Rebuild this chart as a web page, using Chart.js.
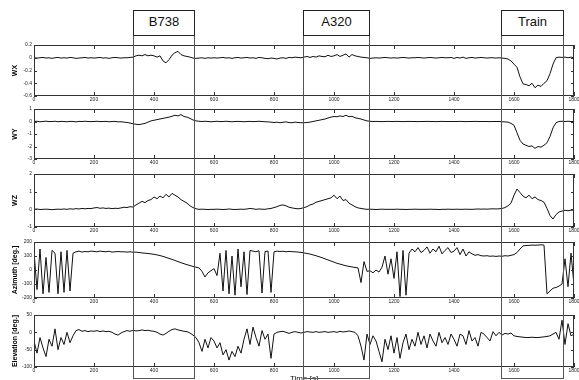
<!DOCTYPE html>
<html>
<head>
<meta charset="utf-8">
<script src="https://cdn.jsdelivr.net/npm/chart.js@4.4.0/dist/chart.umd.min.js"></script>
<style>
  body { margin: 0; background: #fff; }
  #fig { position: relative; width: 579px; height: 380px; overflow: hidden; background: #fff;
         font-family: 'Liberation Sans', Arial, sans-serif; }
  #fig canvas { position: absolute; left: 0; }
  .event-span { position: absolute; border: 1.5px solid #555; box-sizing: border-box; }
  .event-label { position: absolute; border: 1.5px solid #222; box-sizing: border-box; background: #fff;
                 text-align: center; font-size: 13px; line-height: 22px; color: #111; }
  #xtitle { position: absolute; left: 290px; top: 374px; font-size: 8px; color: #111; }
</style>
</head>
<body>
<div id="fig">
  <canvas id="p0"></canvas>
  <canvas id="p1"></canvas>
  <canvas id="p2"></canvas>
  <canvas id="p3"></canvas>
  <canvas id="p4"></canvas>
  <div id="xtitle">Time [s]</div>
</div>
<script>
// sampled every 10 s, 0..1800
const STEP = 10;

const wxValues = [
  0, -0.005, 0, 0.005, -0.005, 0, -0.01, 0, 0.005, -0.005,
  0, -0.005, 0.005, 0, -0.01, -0.005, 0, 0.005, -0.005, 0,
  -0.005, 0, 0.005, -0.005, 0, -0.01, 0, 0.005, 0, -0.005,
  0, 0, 0.005, 0.01, 0.03, 0.04, 0.03, 0.05, 0.03, 0.04,
  0.03, 0.01, 0.03, -0.05, -0.08, -0.03, 0.04, 0.08, 0.1, 0.05,
  0.03, 0.02, 0.01, -0.005, -0.01, -0.005, 0, -0.01, 0, -0.005,
  0, -0.005, 0, 0.005, -0.005, 0, -0.01, 0, 0.005, -0.005,
  0, 0.005, -0.005, 0, -0.01, 0.005, 0, -0.01, -0.015, -0.005,
  -0.01, -0.02, -0.005, 0, -0.01, 0.005, 0, 0.01, 0.005, 0,
  0.01, 0.02, 0.005, 0.02, 0.01, 0.03, 0.02, 0.015, 0.04, 0.02,
  0.03, 0.05, 0.02, 0.04, 0.06, 0.01, 0.05, 0.03, 0.02, 0.01,
  0.005, 0, -0.01, -0.005, 0, -0.005, 0, 0.005, 0, -0.005,
  0, -0.005, 0, 0.005, 0, -0.005, 0, 0, 0.005, 0,
  -0.005, 0, 0.005, 0, -0.005, 0, 0.005, 0, 0, 0.005,
  -0.01, 0.005, -0.005, 0.01, -0.01, 0, 0.005, -0.005, 0, 0.005,
  0, -0.005, 0, 0, -0.005, 0, -0.005, -0.01, -0.02, -0.05,
  -0.1, -0.15, -0.3, -0.41, -0.42, -0.44, -0.4, -0.47, -0.43, -0.45,
  -0.4, -0.36, -0.25, -0.1, 0, 0.01, 0.005, 0.01, 0, 0.01,
  0
];

const wyValues = [
  0, 0.02, -0.02, 0, 0.03, -0.01, 0, 0.02, -0.02, 0.01,
  0, -0.02, 0.01, 0, -0.03, 0.01, 0, 0.02, 0, -0.01,
  0, 0.02, -0.01, 0, 0.01, -0.02, 0, 0.01, -0.03, -0.02,
  -0.05, -0.08, -0.12, -0.18, -0.22, -0.25, -0.2, -0.15, -0.05, 0.05,
  0.1, 0.15, 0.2, 0.25, 0.3, 0.35, 0.42, 0.5, 0.45, 0.55,
  0.4, 0.35, 0.25, 0.12, 0.05, 0.02, 0, 0.02, 0, -0.02,
  0, 0.02, -0.01, 0, 0.02, 0, -0.02, 0, 0.01, 0,
  -0.02, 0, 0.01, -0.01, 0, 0.02, 0, -0.02, -0.03, -0.05,
  -0.08, -0.05, -0.1, -0.06, -0.03, -0.08, -0.1, -0.05, -0.08, -0.1,
  -0.1, -0.08, -0.05, 0, 0.05, 0.1, 0.15, 0.2, 0.28, 0.35,
  0.4, 0.38, 0.45, 0.4, 0.5, 0.38, 0.42, 0.3, 0.25, 0.2,
  0.12, 0.05, 0.02, 0, 0.01, 0, -0.01, 0, 0.01, 0,
  0, 0.01, 0, -0.01, 0, 0.01, 0, 0, -0.01, 0,
  0, 0.01, 0, 0, -0.01, 0, 0.01, 0, 0, 0,
  0, 0, 0.01, 0, -0.01, 0, 0, 0.01, 0, 0,
  0, 0, -0.01, 0, 0, 0, -0.02, -0.03, -0.05, -0.15,
  -0.3, -0.9, -1.5, -1.8, -1.9, -2.0, -1.95, -2.15, -2.0, -2.05,
  -1.9, -1.7, -1.2, -0.5, -0.1, 0, 0.02, 0, 0.02, 0,
  0
];

const wzValues = [
  0, 0.02, -0.01, 0, 0.01, 0, -0.02, 0, 0.01, 0,
  0.02, 0, 0.03, 0.01, 0.04, 0.02, 0.05, 0.03, 0.05, 0.04,
  0.08, 0.1, 0.06, 0.08, 0.05, 0.07, 0.04, 0.06, 0.05, 0.08,
  0.12, 0.1, 0.15, 0.13, 0.25, 0.35, 0.45, 0.38, 0.5, 0.55,
  0.7, 0.6, 0.75, 0.65, 0.85, 0.7, 0.9, 0.8, 0.7, 0.55,
  0.45, 0.35, 0.2, 0.1, 0.03, 0, 0.01, 0, -0.01, 0,
  0, 0.01, 0, -0.01, 0, 0.02, 0, -0.01, 0, 0.01,
  0, 0.02, 0.05, 0.03, 0, 0.02, 0.01, 0, 0.03, 0.05,
  0.1, 0.15, 0.22, 0.25, 0.2, 0.12, 0.08, 0.05, 0.03, 0.05,
  0.1, 0.15, 0.25, 0.3, 0.4, 0.45, 0.5, 0.55, 0.6, 0.65,
  0.8, 0.6, 0.75, 0.5, 0.55, 0.35, 0.25, 0.15, 0.08, 0.05,
  0.02, 0, 0.01, 0, -0.01, 0, 0.01, 0, 0, 0,
  0, 0.01, 0, 0, -0.01, 0, 0, 0.01, 0, 0,
  0, 0, 0.01, 0, 0, -0.01, 0, 0, 0.01, 0,
  0, 0.01, 0, 0, 0.01, 0, 0, 0.01, 0.02, 0.01,
  0.02, 0.01, 0.02, 0.03, 0.02, 0.03, 0.05, 0.1, 0.2, 0.35,
  0.8, 1.15, 0.95, 0.75, 0.65, 0.8, 0.6, 0.7, 0.55, 0.5,
  0.4, 0.05, -0.35, -0.55, -0.3, -0.15, -0.1, -0.05, -0.08, -0.05,
  -0.05
];

const azimuthValues = [
  130, -140, 150, -170, 90, -160, 140, 120, -170, 130,
  -160, 140, -150, 120, 130, 135, 128, 132, 130, 135,
  133, 130, 135, 132, 130, 134, 128, 130, 132, 130,
  130, 128, 130, 127, 128, 125, 122, 120, 118, 115,
  112, 108, 103, 97, 90, 83, 76, 68, 60, 52,
  45, 38, 32, 25, 20, 15, -10, -50, -20, -5,
  10, -40, 120, -150, 140, -170, 100, -180, 150, -120,
  130, -175, 140, 135, 130, 138, -165, 132, 135, -160,
  130, 135, 132, 134, 130, 133, 131, 130, 128, 126,
  122, 118, 114, 108, 102, 95, 88, 80, 72, 64,
  56, 48, 42, 36, 30, 26, 22, 18, 15, -90,
  60, -10, -5, -20, 0, -15, 20, 100, -30, 80,
  -60, 130, -190, 140, -180, 120, 150, 130, 160, 125,
  140, 165, 120, 150, 130, 170, 115, 140, 160, 125,
  135, 160, 110, 150, 100, 130, 115, 105, 110, 102,
  100, 102, 98, 100, 97, 100, 98, 102, 100, 105,
  110, 125, 150, 172, 175, 176, 178, 177, 178, 180,
  178, -170, -150, -130, -125, -115, -100, 80, -120, 120,
  -110
];

const elevationValues = [
  -25, -60, -15, -45, -70, -20, -40, 10, -50, -15,
  -35, 0, -30, -10, 5, 8, 3, 5, 2, 4,
  3, 5, 2, 4, 2, 3, 0, -5, -8, -2,
  2, 5, 3, 6, 4, 5, 7, 5, 6, 4,
  3, 0, -5, -8, -3, 3, 8, 10, 7, 5,
  3, 2, -2, -8, -15, -30, -55, -20, -45, -15,
  -25, -45, -30, -65, -50, -80, -55, -70, -40, -60,
  -20, 10, -35, 15, -15, -40, 5, -20, -5, -75,
  -5, 0, 2, 3, 0, -3, 0, 2, 0, -2,
  0, 2, 1, 0, 2, 0, 1, 2, 0, 1,
  2, 0, 3, 1, 2, 4, 2, 0, -10, -40,
  -80, -5, -35, -10, -25, -55, -85, -20, -50, -10,
  -60, -15, -75, -30, -5, -50, -20, -40, 0, -35,
  -10, -45, -5, -25, -40, 0, -30, -15, -35, -5,
  -20, -40, -5, -10, -35, 5, -25, -15, -40, 0,
  -5, -15, -25, 2, -10, 0, -8, -3, -5, -2,
  -10, -12, -13, -14, -15, -15, -14, -15, -15, -14,
  -13, -12, -10, -5, 0, -20, 35, -35, 25, -10,
  -5
];

const panelSeries = [wxValues, wyValues, wzValues, azimuthValues, elevationValues];
const panelTitles = ['WX', 'WY', 'WZ', 'Azimuth [deg.]', 'Elevation [deg.]'];
const panelMin = [-0.6, -3, -1, -200, -100];
const panelMax = [0.2, 1, 2, 200, 50];
const panelStep = [0.2, 1, 1, 100, 50];

const eventLabels = ['B738', 'A320', 'Train'];
const eventStart = [330, 897, 1557];
const eventEnd = [533, 1117, 1763];

// layout (pixel rows of each plot area)
const plotTop = [45, 109, 174, 242, 315];
const plotBottom = [96, 159, 227, 298, 367];
const PAD_TOP = 5, X_AXIS_H = 9, Y_AXIS_W = 34;
const FONT = "'Liberation Sans', Arial, sans-serif";

const frameTicks = {
  id: 'frameTicks',
  afterDraw(chart) {
    const { ctx, chartArea: a, scales: { x, y } } = chart;
    ctx.save();
    ctx.strokeStyle = '#333';
    ctx.lineWidth = 1;
    ctx.strokeRect(a.left + 0.5, a.top + 0.5, a.right - a.left - 1, a.bottom - a.top - 1);
    ctx.beginPath();
    x.ticks.forEach((t, i) => {
      const px = Math.round(x.getPixelForTick(i)) + 0.5;
      ctx.moveTo(px, a.bottom); ctx.lineTo(px, a.bottom - 4);
      ctx.moveTo(px, a.top); ctx.lineTo(px, a.top + 4);
    });
    y.ticks.forEach((t, i) => {
      const py = Math.round(y.getPixelForTick(i)) + 0.5;
      ctx.moveTo(a.left, py); ctx.lineTo(a.left + 3, py);
      ctx.moveTo(a.right, py); ctx.lineTo(a.right - 3, py);
    });
    ctx.stroke();
    ctx.restore();
  }
};

const charts = panelSeries.map((values, p) => {
  const canvas = document.getElementById('p' + p);
  canvas.width = 579;
  canvas.height = plotBottom[p] - plotTop[p] + PAD_TOP + X_AXIS_H;
  canvas.style.top = (plotTop[p] - PAD_TOP) + 'px';

  return new Chart(canvas, {
    type: 'line',
    data: {
      datasets: [{
        data: values.map((v, i) => ({ x: i * STEP, y: v })),
        borderColor: '#111',
        borderWidth: 1,
        pointRadius: 0,
        tension: 0
      }]
    },
    options: {
      responsive: false,
      animation: false,
      events: [],
      layout: { padding: { left: 0, top: PAD_TOP, right: 5, bottom: 0 } },
      plugins: { legend: { display: false }, tooltip: { enabled: false } },
      scales: {
        x: {
          type: 'linear', min: 0, max: 1800,
          grid: { display: false, drawTicks: false },
          border: { display: false },
          ticks: { stepSize: 200, autoSkip: false, maxRotation: 0, padding: 1, color: '#222',
                   font: { size: 5, family: FONT }, callback: v => String(v) },
          afterFit: s => { s.height = X_AXIS_H; s.paddingLeft = 0; s.paddingRight = 0; }
        },
        y: {
          min: panelMin[p], max: panelMax[p],
          grid: { display: false, drawTicks: false },
          border: { display: false },
          ticks: { stepSize: panelStep[p], padding: 2, color: '#222', font: { size: 5, family: FONT },
                   callback: v => String(+v.toFixed(1)) },
          title: { display: true, text: panelTitles[p], color: '#000',
                   font: { size: 7, weight: 'bold', family: FONT }, padding: { top: 11, bottom: 0 } },
          afterFit: s => { s.width = Y_AXIS_W; s.paddingTop = 0; s.paddingBottom = 0; }
        }
      }
    },
    plugins: [frameTicks]
  });
});

// event boxes, placed from the x scale
const fig = document.getElementById('fig');
const xs = charts[0].scales.x;
eventLabels.forEach((label, i) => {
  const left = Math.round(xs.getPixelForValue(eventStart[i]));
  const right = Math.round(xs.getPixelForValue(eventEnd[i]));
  const span = document.createElement('div');
  span.className = 'event-span';
  Object.assign(span.style, { left: left + 'px', top: '34px', width: (right - left + 1) + 'px', height: '345px' });
  fig.appendChild(span);
  const box = document.createElement('div');
  box.className = 'event-label';
  box.textContent = label;
  Object.assign(box.style, { left: left + 'px', top: '10px', width: (right - left + 1) + 'px', height: '26px' });
  fig.appendChild(box);
});
</script>
</body>
</html>
